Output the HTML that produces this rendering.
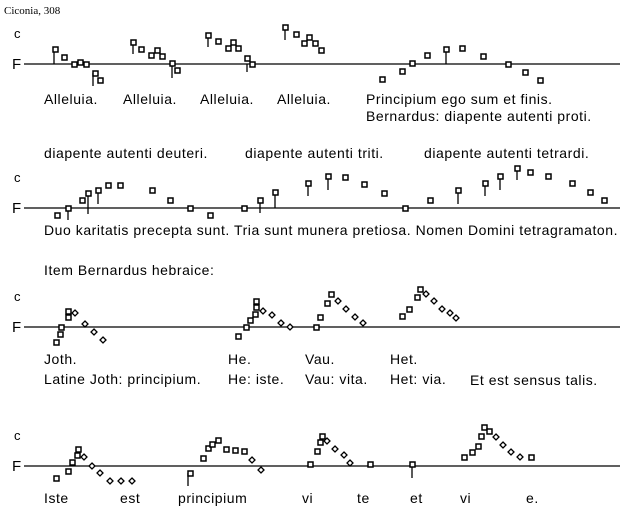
<!DOCTYPE html>
<html><head><meta charset="utf-8"><style>
html,body{margin:0;padding:0;background:#fff;}
svg{display:block;}
text{font-family:"Liberation Sans",sans-serif;font-size:14px;letter-spacing:0.55px;fill:#000;}
</style></head><body>
<svg width="634" height="528" viewBox="0 0 634 528" xmlns="http://www.w3.org/2000/svg">
<text x="4" y="14" style="font-family:'Liberation Serif',serif;font-size:11px;letter-spacing:0">Ciconia, 308</text>
<g stroke="#000" stroke-width="1.3">
<line x1="24" y1="64" x2="620" y2="64"/>
<line x1="24" y1="208" x2="620" y2="208"/>
<line x1="24" y1="327" x2="620" y2="327"/>
<line x1="24" y1="466" x2="620" y2="466"/>
<line x1="54" y1="49" x2="54" y2="64"/><line x1="133" y1="42" x2="133" y2="54"/>
<line x1="172" y1="64" x2="172" y2="78"/><line x1="93" y1="73" x2="93" y2="86"/>
<line x1="208" y1="35" x2="208" y2="47"/><line x1="247" y1="64" x2="247" y2="72"/>
<line x1="285" y1="27" x2="285" y2="40"/><line x1="446" y1="49" x2="446" y2="64"/>
<line x1="68" y1="208" x2="68" y2="220"/><line x1="88" y1="193" x2="88" y2="214"/>
<line x1="98" y1="190" x2="98" y2="204"/><line x1="260" y1="200" x2="260" y2="213"/>
<line x1="275" y1="192" x2="275" y2="208"/><line x1="308" y1="183" x2="308" y2="196"/>
<line x1="328" y1="176" x2="328" y2="190"/><line x1="458" y1="190" x2="458" y2="204"/>
<line x1="485" y1="183" x2="485" y2="196"/><line x1="500" y1="176" x2="500" y2="190"/>
<line x1="517" y1="168" x2="517" y2="180"/>
<line x1="188" y1="473" x2="188" y2="486"/><line x1="412" y1="464" x2="412" y2="478"/>
</g>
<g>
<text x="14" y="38" style="font-size:13px;letter-spacing:0">c</text><text x="12" y="69" style="font-size:15px;letter-spacing:0">F</text>
<text x="14" y="182" style="font-size:13px;letter-spacing:0">c</text><text x="12" y="213" style="font-size:15px;letter-spacing:0">F</text>
<text x="14" y="301" style="font-size:13px;letter-spacing:0">c</text><text x="12" y="332" style="font-size:15px;letter-spacing:0">F</text>
<text x="14" y="440" style="font-size:13px;letter-spacing:0">c</text><text x="12" y="471" style="font-size:15px;letter-spacing:0">F</text>
</g>
<g fill="#fff" stroke="#000" stroke-width="1.5">
<rect x="53" y="47" width="5" height="5"/><rect x="62" y="55" width="5" height="5"/><rect x="72" y="62" width="5" height="5"/><rect x="78" y="60" width="5" height="5"/><rect x="84" y="62" width="5" height="5"/><rect x="93" y="71" width="5" height="5"/><rect x="98" y="78" width="5" height="5"/>
<rect x="131" y="40" width="5" height="5"/><rect x="139" y="47" width="5" height="5"/><rect x="149" y="53" width="5" height="5"/><rect x="155" y="48" width="5" height="5"/><rect x="160" y="54" width="5" height="5"/><rect x="170" y="61" width="5" height="5"/><rect x="175" y="68" width="5" height="5"/>
<rect x="206" y="33" width="5" height="5"/><rect x="216" y="39" width="5" height="5"/><rect x="226" y="46" width="5" height="5"/><rect x="231" y="40" width="5" height="5"/><rect x="236" y="46" width="5" height="5"/><rect x="245" y="56" width="5" height="5"/><rect x="250" y="62" width="5" height="5"/>
<rect x="283" y="25" width="5" height="5"/><rect x="294" y="32" width="5" height="5"/><rect x="302" y="41" width="5" height="5"/><rect x="307" y="35" width="5" height="5"/><rect x="313" y="41" width="5" height="5"/><rect x="319" y="48" width="5" height="5"/>
<rect x="380" y="77" width="5" height="5"/><rect x="400" y="69" width="5" height="5"/><rect x="410" y="61" width="5" height="5"/><rect x="425" y="53" width="5" height="5"/><rect x="444" y="47" width="5" height="5"/><rect x="460" y="46" width="5" height="5"/><rect x="481" y="54" width="5" height="5"/><rect x="506" y="62" width="5" height="5"/><rect x="523" y="70" width="5" height="5"/><rect x="538" y="78" width="5" height="5"/>
<rect x="55" y="213" width="5" height="5"/><rect x="66" y="206" width="5" height="5"/><rect x="80" y="198" width="5" height="5"/><rect x="86" y="191" width="5" height="5"/><rect x="96" y="188" width="5" height="5"/><rect x="106" y="183" width="5" height="5"/><rect x="118" y="183" width="5" height="5"/><rect x="150" y="188" width="5" height="5"/><rect x="168" y="198" width="5" height="5"/><rect x="188" y="206" width="5" height="5"/><rect x="208" y="213" width="5" height="5"/>
<rect x="242" y="206" width="5" height="5"/><rect x="258" y="198" width="5" height="5"/><rect x="273" y="190" width="5" height="5"/><rect x="306" y="181" width="5" height="5"/><rect x="326" y="174" width="5" height="5"/><rect x="343" y="175" width="5" height="5"/><rect x="362" y="182" width="5" height="5"/><rect x="382" y="191" width="5" height="5"/><rect x="403" y="206" width="5" height="5"/>
<rect x="428" y="198" width="5" height="5"/><rect x="456" y="188" width="5" height="5"/><rect x="483" y="181" width="5" height="5"/><rect x="498" y="174" width="5" height="5"/><rect x="515" y="166" width="5" height="5"/><rect x="528" y="170" width="5" height="5"/><rect x="546" y="174" width="5" height="5"/><rect x="570" y="181" width="5" height="5"/><rect x="588" y="190" width="5" height="5"/><rect x="602" y="198" width="5" height="5"/>
<rect x="54" y="340" width="5" height="5"/><rect x="58" y="332" width="5" height="5"/><rect x="59" y="325" width="5" height="5"/><rect x="66" y="315" width="5" height="5"/><rect x="66" y="309" width="5" height="5"/>
<rect x="236" y="334" width="5" height="5"/><rect x="244" y="325" width="5" height="5"/><rect x="248" y="318" width="5" height="5"/><rect x="253" y="312" width="5" height="5"/><rect x="254" y="305" width="5" height="5"/><rect x="254" y="299" width="5" height="5"/>
<rect x="314" y="325" width="5" height="5"/><rect x="318" y="315" width="5" height="5"/><rect x="325" y="301" width="5" height="5"/><rect x="329" y="292" width="5" height="5"/>
<rect x="400" y="314" width="5" height="5"/><rect x="407" y="307" width="5" height="5"/><rect x="415" y="295" width="5" height="5"/><rect x="418" y="287" width="5" height="5"/>
<rect x="54" y="476" width="5" height="5"/><rect x="66" y="469" width="5" height="5"/><rect x="70" y="460" width="5" height="5"/><rect x="75" y="453" width="5" height="5"/><rect x="76" y="447" width="5" height="5"/>
<rect x="188" y="471" width="5" height="5"/><rect x="201" y="456" width="5" height="5"/><rect x="206" y="446" width="5" height="5"/><rect x="210" y="442" width="5" height="5"/><rect x="216" y="438" width="5" height="5"/><rect x="224" y="447" width="5" height="5"/><rect x="233" y="448" width="5" height="5"/><rect x="242" y="449" width="5" height="5"/>
<rect x="308" y="462" width="5" height="5"/><rect x="315" y="449" width="5" height="5"/><rect x="318" y="440" width="5" height="5"/><rect x="320" y="434" width="5" height="5"/><rect x="368" y="462" width="5" height="5"/><rect x="410" y="462" width="5" height="5"/>
<rect x="462" y="455" width="5" height="5"/><rect x="470" y="450" width="5" height="5"/><rect x="476" y="444" width="5" height="5"/><rect x="479" y="434" width="5" height="5"/><rect x="482" y="425" width="5" height="5"/><rect x="487" y="429" width="5" height="5"/><rect x="529" y="455" width="5" height="5"/>
</g>
<g fill="#fff" stroke="#000" stroke-width="1.3">
<path d="M75 310l3 3-3 3-3-3z"/><path d="M85 321l3 3-3 3-3-3z"/><path d="M94 329l3 3-3 3-3-3z"/><path d="M103 337l3 3-3 3-3-3z"/>
<path d="M263 308l3 3-3 3-3-3z"/><path d="M272 312l3 3-3 3-3-3z"/><path d="M281 320l3 3-3 3-3-3z"/><path d="M290 324l3 3-3 3-3-3z"/>
<path d="M338 298l3 3-3 3-3-3z"/><path d="M346 306l3 3-3 3-3-3z"/><path d="M355 314l3 3-3 3-3-3z"/><path d="M363 320l3 3-3 3-3-3z"/>
<path d="M426 291l3 3-3 3-3-3z"/><path d="M434 298l3 3-3 3-3-3z"/><path d="M442 306l3 3-3 3-3-3z"/><path d="M450 310l3 3-3 3-3-3z"/><path d="M456 315l3 3-3 3-3-3z"/>
<path d="M84 454l3 3-3 3-3-3z"/><path d="M92 463l3 3-3 3-3-3z"/><path d="M100 470l3 3-3 3-3-3z"/><path d="M110 478l3 3-3 3-3-3z"/><path d="M121 478l3 3-3 3-3-3z"/><path d="M132 478l3 3-3 3-3-3z"/>
<path d="M252 457l3 3-3 3-3-3z"/><path d="M261 467l3 3-3 3-3-3z"/>
<path d="M327 438l3 3-3 3-3-3z"/><path d="M335 446l3 3-3 3-3-3z"/><path d="M344 452l3 3-3 3-3-3z"/><path d="M350 460l3 3-3 3-3-3z"/>
<path d="M496 434l3 3-3 3-3-3z"/><path d="M503 442l3 3-3 3-3-3z"/><path d="M511 449l3 3-3 3-3-3z"/><path d="M520 454l3 3-3 3-3-3z"/>
</g>
<text x="44" y="104">Alleluia.</text><text x="123" y="104">Alleluia.</text><text x="200" y="104">Alleluia.</text><text x="277" y="104">Alleluia.</text>
<text x="366" y="104">Principium ego sum et finis.</text>
<text x="366" y="121">Bernardus: diapente autenti proti.</text>
<text x="44" y="158">diapente autenti deuteri.</text><text x="245" y="158">diapente autenti triti.</text><text x="424" y="158">diapente autenti tetrardi.</text>
<text x="44" y="235">Duo karitatis precepta sunt. Tria sunt munera pretiosa. Nomen Domini tetragramaton.</text>
<text x="44" y="275">Item Bernardus hebraice:</text>
<text x="44" y="364">Joth.</text><text x="228" y="364">He.</text><text x="305" y="364">Vau.</text><text x="390" y="364">Het.</text>
<text x="44" y="384">Latine Joth: principium.</text><text x="228" y="384">He: iste.</text><text x="305" y="384">Vau: vita.</text><text x="390" y="384">Het: via.</text><text x="470" y="385">Et est sensus talis.</text>
<text x="44" y="503">Iste</text><text x="120" y="503">est</text><text x="178" y="503">principium</text><text x="302" y="503">vi</text><text x="357" y="503">te</text><text x="410" y="503">et</text><text x="460" y="503">vi</text><text x="526" y="503">e.</text>
</svg>
</body></html>
